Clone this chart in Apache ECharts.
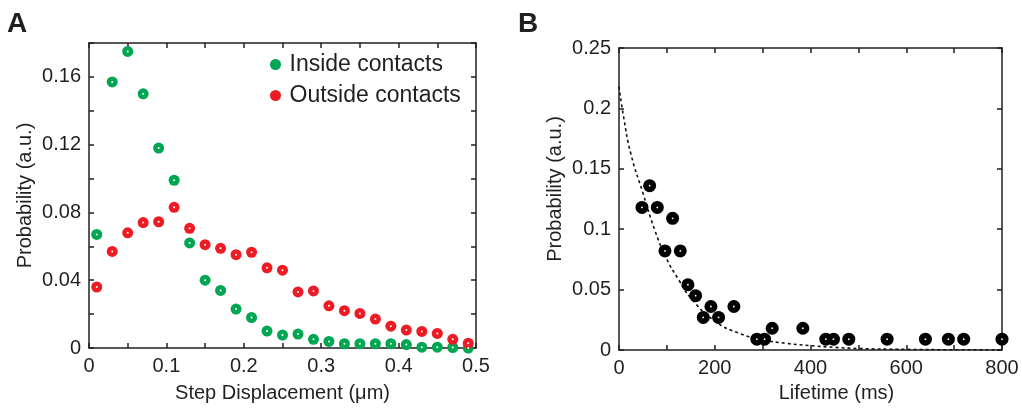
<!DOCTYPE html>
<html>
<head>
<meta charset="utf-8">
<script src="https://cdn.jsdelivr.net/npm/echarts@6/dist/echarts.min.js"></script>
<style>
html,body{margin:0;padding:0;background:#fff;}
#chart{width:1022px;height:408px;}
</style>
</head>
<body>
<div id="chart"></div>
<script>
// ---- Panel A data ----
const stepX = [0.01,0.03,0.05,0.07,0.09,0.11,0.13,0.15,0.17,0.19,0.21,0.23,0.25,0.27,0.29,0.31,0.33,0.35,0.37,0.39,0.41,0.43,0.45,0.47,0.49];
const insideY = [0.067,0.157,0.175,0.150,0.118,0.099,0.062,0.040,0.034,0.023,0.018,0.010,0.0076,0.0082,0.0051,0.0039,0.0025,0.0025,0.0025,0.0025,0.002,0.0005,0.0005,0.0003,0];
const outsideY = [0.036,0.057,0.068,0.074,0.0745,0.083,0.0706,0.061,0.0588,0.0551,0.0565,0.0473,0.0459,0.0331,0.0337,0.0249,0.022,0.0204,0.0171,0.0129,0.0106,0.0098,0.0086,0.0051,0.0028];
const xLabelsA = [0,0.1,0.2,0.3,0.4,0.5];
const yLabelsA = [0,0.04,0.08,0.12,0.16];

// ---- Panel B data ----
const lifeX = [48,64,80,96,112,128,144,160,176,192,208,240,288,304,320,384,432,448,480,560,640,688,720,800];
const lifeY = [0.118,0.136,0.118,0.082,0.109,0.082,0.054,0.045,0.027,0.036,0.027,0.036,0.009,0.009,0.018,0.018,0.009,0.009,0.009,0.009,0.009,0.009,0.009,0.009];
const fitX = [0,10,25,50,75,100,125,150,200,250,300,350,400,450,500,600,700,800];
const fitY = [0.218,0.192,0.162,0.130,0.099,0.075,0.058,0.043,0.024,0.014,0.0085,0.0055,0.0036,0.0022,0.0012,0.0005,0.0002,0.0001];
const xLabelsB = [0,200,400,600,800];
const yLabelsB = [0,0.05,0.1,0.15,0.2,0.25];

const zip = (xs, ys) => xs.map((x, i) => [x, ys[i]]);
const has = (list) => (v) => list.some(t => Math.abs(t - v) < 1e-9) ? String(+v.toFixed(6)) : '';

const INK = '#231f20';
const FONT = '"Liberation Sans", Arial, sans-serif';
const line = {show:true, onZero:false, lineStyle:{color:INK, width:1.5}};
const tick = {show:true, inside:true, length:5, lineStyle:{color:INK, width:1.5}};
const lab = (fmt) => ({show:true, formatter:fmt, color:INK, fontSize:20, margin:8, fontFamily:FONT, showMinLabel:true, showMaxLabel:true});
const nameStyle = {color:INK, fontSize:20, fontFamily:FONT};

function axisPair(kind, grid, min, max, interval, fmt, name, gap, pad) {
  const first = {
    gridIndex:grid, type:'value', min, max, interval,
    position: kind === 'x' ? 'bottom' : 'left',
    axisLine:line, axisTick:tick, axisLabel:lab(fmt), splitLine:{show:false},
    name, nameLocation:'middle', nameGap:gap,
    nameTextStyle:Object.assign({}, nameStyle, pad ? {padding:pad} : {})
  };
  const second = {
    gridIndex:grid, type:'value', min, max, interval,
    position: kind === 'x' ? 'top' : 'right',
    axisLine:line, axisTick:tick, axisLabel:{show:false}, splitLine:{show:false}
  };
  return [first, second];
}

const xs = [
  ...axisPair('x', 0, 0, 0.5, 0.05, has(xLabelsA), 'Step Displacement (μm)', 35),
  ...axisPair('x', 1, 0, 800, 100, has(xLabelsB), 'Lifetime (ms)', 33, [0,0,0,52])
];
const ys = [
  ...axisPair('y', 0, 0, 0.18, 0.02, has(yLabelsA), 'Probability (a.u.)', 54),
  ...axisPair('y', 1, 0, 0.25, 0.05, has(yLabelsB), 'Probability (a.u.)', 54, [0,0,0,20])
];

const dot = (data, xi, yi, size) => ({
  type:'scatter', name:'_dot', xAxisIndex:xi, yAxisIndex:yi, data, symbolSize:size,
  itemStyle:{color:'#ffffff', opacity:1}, silent:true, z:5, clip:true
});

const option = {
  animation:false,
  backgroundColor:'#ffffff',
  textStyle:{fontFamily:FONT},
  grid:[
    {left:89, top:43, width:387, height:306},
    {left:619, top:48, width:383, height:303}
  ],
  xAxis:xs,
  yAxis:ys,
  legend:{
    data:['Inside contacts','Outside contacts'],
    orient:'vertical', left:265, top:48, itemWidth:18, itemHeight:11, itemGap:8,
    icon:'circle',
    textStyle:{color:INK, fontSize:23, fontFamily:FONT}
  },
  graphic:[
    {type:'text', left:7, top:10, style:{text:'A', font:'bold 28px "Liberation Sans", Arial, sans-serif', fill:INK}},
    {type:'text', left:518, top:10, style:{text:'B', font:'bold 28px "Liberation Sans", Arial, sans-serif', fill:INK}}
  ],
  series:[
    {type:'scatter', name:'Inside contacts', xAxisIndex:0, yAxisIndex:0, data:zip(stepX, insideY),
     symbolSize:11, itemStyle:{color:'#00a651', opacity:1}, z:3, clip:true},
    {type:'scatter', name:'Outside contacts', xAxisIndex:0, yAxisIndex:0, data:zip(stepX, outsideY),
     symbolSize:11, itemStyle:{color:'#ed1c24', opacity:1}, z:4, clip:true},
    dot(zip(stepX, insideY), 0, 0, 2),
    dot(zip(stepX, outsideY), 0, 0, 2),
    {type:'line', name:'fit', xAxisIndex:2, yAxisIndex:2, data:zip(fitX, fitY), smooth:true,
     showSymbol:false, symbol:'none', lineStyle:{color:'#111', width:1.6, type:[3,3]}, z:2, silent:true},
    {type:'scatter', name:'Lifetime', xAxisIndex:2, yAxisIndex:2, data:zip(lifeX, lifeY),
     symbolSize:13, itemStyle:{color:'#000000', opacity:1}, z:3, clip:true},
    dot(zip(lifeX, lifeY), 2, 2, 1.8)
  ]
};

const chart = echarts.init(document.getElementById('chart'), null, {renderer:'canvas'});
chart.setOption(option);
</script>
</body>
</html>
